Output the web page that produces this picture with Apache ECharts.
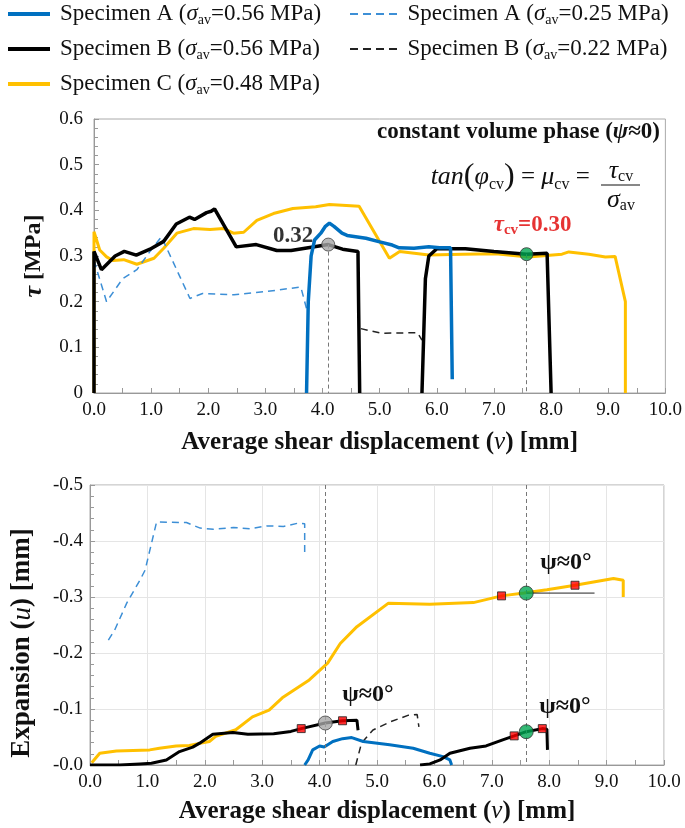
<!DOCTYPE html>
<html><head><meta charset="utf-8">
<script src="https://cdn.jsdelivr.net/npm/echarts@6/dist/echarts.min.js"></script>
<style>html,body{margin:0;padding:0;background:#fff}#c{width:685px;height:828px}</style>
</head><body><div id="c"></div>
<script>
// ---------- data: top chart (shear stress tau [MPa] vs displacement v [mm]) ----------
const topA056 = [[3.72,0],[3.75,0.2],[3.80,0.30],[3.86,0.335],[3.97,0.35],[4.05,0.365],[4.12,0.372],[4.2,0.365],[4.34,0.35],[4.43,0.345],[4.76,0.339],[5.0,0.331],[5.22,0.324],[5.34,0.318],[5.6,0.317],[5.86,0.32],[6.05,0.318],[6.24,0.318],[6.27,0.03]];
const topA025 = [[0,0.29],[0.22,0.20],[0.5,0.25],[0.75,0.27],[0.98,0.31],[1.18,0.342],[1.68,0.207],[1.9,0.218],[2.45,0.215],[3.0,0.222],[3.62,0.232],[3.73,0.18]];
const topB056a = [[0,0],[0,0.31],[0.13,0.27],[0.37,0.30],[0.53,0.31],[0.74,0.302],[0.98,0.315],[1.22,0.332],[1.44,0.37],[1.67,0.385],[1.76,0.38],[1.97,0.395],[2.05,0.398],[2.11,0.403],[2.49,0.32],[2.84,0.325],[3.2,0.312],[3.45,0.312],[3.75,0.318],[4.1,0.325],[4.35,0.315],[4.62,0.31],[4.65,0.0]];
const topB056b = [[5.74,0],[5.8,0.25],[5.86,0.30],[6.0,0.316],[6.5,0.316],[7.0,0.31],[7.57,0.304],[7.93,0.306],[8.0,0.0]];
const topB022 = [[4.67,0.141],[5.02,0.131],[5.66,0.132],[5.74,0.116]];
const topC048 = [[0,0],[0,0.353],[0.1,0.313],[0.22,0.298],[0.33,0.29],[0.52,0.292],[0.75,0.282],[1.05,0.295],[1.22,0.317],[1.45,0.35],[1.74,0.36],[2.03,0.358],[2.27,0.36],[2.44,0.35],[2.62,0.352],[2.85,0.378],[3.14,0.393],[3.48,0.404],[3.88,0.408],[4.12,0.413],[4.64,0.409],[5.17,0.295],[5.35,0.31],[5.86,0.302],[6.45,0.304],[7.03,0.305],[7.6,0.298],[8.19,0.304],[8.31,0.309],[8.66,0.304],[8.95,0.298],[9.12,0.299],[9.30,0.2],[9.30,0]];
const topGrey = [[4.1,0.325]];
const topGreen = [[7.57,0.304]];
const topLabels = ['0.32', '=0.30'];

// ---------- data: bottom chart (expansion u [mm] vs displacement v [mm]) ----------
const botA056 = [[3.74,0],[3.8,-0.009],[3.88,-0.027],[4.0,-0.034],[4.08,-0.032],[4.23,-0.042],[4.4,-0.047],[4.56,-0.049],[4.76,-0.042],[5.22,-0.036],[5.63,-0.030],[5.92,-0.021],[6.15,-0.015],[6.27,-0.009],[6.30,0]];
const botA025 = [[0.32,-0.223],[0.43,-0.241],[0.64,-0.289],[0.87,-0.33],[0.96,-0.348],[1.16,-0.434],[1.68,-0.433],[1.92,-0.423],[2.15,-0.421],[2.5,-0.424],[2.79,-0.422],[3.08,-0.427],[3.37,-0.426],[3.63,-0.432],[3.74,-0.431],[3.74,-0.378]];
const botB056a = [[0,0],[0.52,0],[0.87,-0.002],[1.07,-0.003],[1.33,-0.009],[1.56,-0.024],[1.79,-0.032],[1.91,-0.039],[2.14,-0.055],[2.49,-0.058],[2.75,-0.055],[3.2,-0.056],[3.5,-0.06],[3.68,-0.065],[4.1,-0.075],[4.4,-0.079],[4.65,-0.08],[4.67,-0.062]];
const botB056b = [[5.75,0],[5.92,-0.002],[6.1,-0.009],[6.27,-0.021],[6.62,-0.030],[6.9,-0.034],[7.19,-0.045],[7.39,-0.052],[7.6,-0.0595],[7.88,-0.065],[7.96,-0.064],[7.97,-0.027]];
const botB022 = [[4.63,0],[4.73,-0.039],[4.93,-0.0625],[5.23,-0.077],[5.55,-0.089],[5.7,-0.09],[5.73,-0.068]];
const botC048 = [[0.03,-0.004],[0.17,-0.021],[0.46,-0.025],[1.04,-0.027],[1.21,-0.030],[1.5,-0.034],[1.73,-0.035],[2.08,-0.042],[2.19,-0.051],[2.54,-0.063],[2.83,-0.086],[3.12,-0.098],[3.35,-0.12],[3.82,-0.152],[4.14,-0.182],[4.36,-0.217],[4.65,-0.247],[5.2,-0.289],[5.92,-0.287],[6.68,-0.29],[7.17,-0.302],[7.56,-0.307],[7.96,-0.313],[8.45,-0.321],[9.12,-0.333],[9.29,-0.33],[9.29,-0.30]];
const botRed = [[3.68,-0.065],[4.40,-0.079],[7.39,-0.052],[7.88,-0.065],[7.17,-0.302],[8.45,-0.321]];
const botGrey = [[4.1,-0.075]];
const botGreen = [[7.6,-0.307],[7.6,-0.0595]];
const botTangent = [[7.6,-0.307],[8.79,-0.307]];
const refX = [4.1, 7.6];

// ---------- tick labels / names ----------
const xTitle = 'Average shear displacement ({i|v}) [mm]';
const legendNames = {
  A056: 'Specimen A ({i|σ}{s|av}=0.56 MPa)',
  B056: 'Specimen B ({i|σ}{s|av}=0.56 MPa)',
  C048: 'Specimen C ({i|σ}{s|av}=0.48 MPa)',
  A025: 'Specimen A ({i|σ}{s|av}=0.25 MPa)',
  B022: 'Specimen B ({i|σ}{s|av}=0.22 MPa)'
};

const F = "'Liberation Serif','Times New Roman',serif";
const BLUE = '#0070C0', BLUE_D = '#3D8FD6', BLACK = '#000', BLACK_D = '#222', YEL = '#FFC000';
const DASH_ICON = 'path://M0,0h8v2h-8z M13,0h8v2h-8z M26,0h8v2h-8z M39,0h8v2h-8z';
const chart = echarts.init(document.getElementById('c'));

function line(name, data, ax, color, width, dashed, z) {
  return {
    type: 'line', name, data, xAxisIndex: ax, yAxisIndex: ax, symbol: 'none',
    lineStyle: { color, width, type: dashed ? [7, 5] : 'solid' }, itemStyle: { color },
    z: z || 2, animation: false, silent: true
  };
}
const legRich = {
  i: { fontStyle: 'italic', fontSize: 23, fontFamily: F, lineHeight: 26, verticalAlign: 'middle' },
  s: { fontSize: 14, fontFamily: F, lineHeight: 26, verticalAlign: 'bottom' }
};
const axisNameRich = { i: { fontStyle: 'italic', fontWeight: 'normal', fontSize: 25, fontFamily: F } };

function xAx(gi, split, gap) {
  return {
    type: 'value', gridIndex: gi, min: 0, max: 10, interval: 1,
    axisLine: { lineStyle: { color: '#999' } },
    axisTick: { inside: true, length: 5, lineStyle: { color: '#999' } },
    minorTick: { show: true, splitNumber: 2, length: 5, lineStyle: { color: '#999' } },
    splitLine: { show: split, lineStyle: { color: '#e5e5e5' } },
    axisLabel: { formatter: v => v.toFixed(1), fontFamily: F, fontSize: 19, color: '#111', margin: 8 },
    name: xTitle, nameLocation: 'middle', nameGap: gap,
    nameTextStyle: { fontFamily: F, fontSize: 25, fontWeight: 'bold', color: '#111', rich: axisNameRich }
  };
}

const option = {
  backgroundColor: '#fff',
  animation: false,
  grid: [
    { left: 94, right: 18, top: 119, height: 274, show: true, borderColor: '#aaa', borderWidth: 1 },
    { left: 90, right: 21, top: 485, height: 280, show: true, borderColor: '#aaa', borderWidth: 1 }
  ],
  legend: [
    { left: 3, top: -4, orient: 'vertical', itemWidth: 42, itemHeight: 4, itemGap: 9,
      data: ['A056', 'B056', 'C048'].map(n => ({ name: n, icon: 'rect' })), formatter: n => legendNames[n],
      textStyle: { fontFamily: F, fontSize: 23, color: '#111', lineHeight: 26, padding: [0, 0, 0, 5], rich: legRich } },
    { left: 345, top: -4, orient: 'vertical', itemWidth: 50, itemHeight: 2, itemGap: 9,
      data: ['A025', 'B022'].map(n => ({ name: n, icon: DASH_ICON })), formatter: n => legendNames[n],
      textStyle: { fontFamily: F, fontSize: 23, color: '#111', lineHeight: 26, padding: [0, 0, 0, 4], rich: legRich } }
  ],
  xAxis: [xAx(0, false, 37), xAx(1, true, 34)],
  yAxis: [
    { type: 'value', gridIndex: 0, min: 0, max: 0.6, interval: 0.1,
      axisLine: { show: true, lineStyle: { color: '#999' } },
      axisTick: { show: true, inside: true, length: 5, lineStyle: { color: '#999' } },
      minorTick: { show: true, splitNumber: 5, length: 4, lineStyle: { color: '#999' } },
      splitLine: { show: false },
      axisLabel: { formatter: v => v === 0 ? '0' : v.toFixed(1), fontFamily: F, fontSize: 19, color: '#111', margin: 11 },
      name: '{i|τ} [MPa]', nameLocation: 'middle', nameGap: 47, nameRotate: 90,
      nameTextStyle: { fontFamily: F, fontSize: 24, fontWeight: 'bold', color: '#111',
        rich: { i: { fontStyle: 'italic', fontWeight: 'bold', fontSize: 26, fontFamily: F } } } },
    { type: 'value', gridIndex: 1, min: -0.5, max: 0, interval: 0.1, inverse: true,
      axisLine: { show: true, lineStyle: { color: '#999' } },
      axisTick: { show: true, inside: true, length: 5, lineStyle: { color: '#999' } },
      minorTick: { show: true, splitNumber: 5, length: 4, lineStyle: { color: '#999' } },
      splitLine: { show: true, lineStyle: { color: '#e5e5e5' } },
      axisLabel: { formatter: v => Math.abs(v) < 1e-9 ? '-0.0' : v.toFixed(1), fontFamily: F, fontSize: 19, color: '#111', margin: 7 },
      name: 'Expansion ({i|u}) [mm]', nameLocation: 'middle', nameGap: 54, nameRotate: 90,
      nameTextStyle: { fontFamily: F, fontSize: 27, fontWeight: 'bold', color: '#111', padding: [0, 36, 0, 0],
        rich: { i: { fontStyle: 'italic', fontWeight: 'normal', fontSize: 27, fontFamily: F } } } }
  ],
  series: [
    // top chart
    line('C048', topC048, 0, YEL, 3),
    line('A025', topA025, 0, BLUE_D, 1.5, true),
    line('B022', topB022, 0, BLACK_D, 1.5, true),
    line('B056', topB056a, 0, BLACK, 3.5, false, 3),
    line('B056', topB056b, 0, BLACK, 3.5, false, 3),
    line('A056', topA056, 0, BLUE, 3.5, false, 4),
    { type: 'scatter', xAxisIndex: 0, yAxisIndex: 0, data: topGrey, symbol: 'circle', symbolSize: 13, z: 6,
      itemStyle: { color: '#a6a6a6', borderColor: '#444', borderWidth: 1 },
      label: { show: true, position: 'left', distance: 8, offset: [0, -9], formatter: topLabels[0],
        fontFamily: F, fontSize: 23, fontWeight: 'bold', color: '#000' },
      markLine: { silent: true, symbol: 'none', label: { show: false },
        lineStyle: { color: '#777', type: [4, 3], width: 1 },
        data: [[{ coord: topGrey[0] }, { coord: [topGrey[0][0], 0] }], [{ coord: topGreen[0] }, { coord: [topGreen[0][0], 0] }]] } },
    { type: 'scatter', xAxisIndex: 0, yAxisIndex: 0, data: topGreen, symbol: 'circle', symbolSize: 13, z: 6,
      itemStyle: { color: '#00A651', borderColor: '#333', borderWidth: 1 },
      label: { show: true, position: 'top', distance: 10, offset: [6, 0], formatter: '{i|τ}{s|cv}{b|' + topLabels[1] + '}',
        rich: { i: { fontFamily: F, fontSize: 23, fontStyle: 'italic', fontWeight: 'bold', color: '#e00000', lineHeight: 24 },
          s: { fontFamily: F, fontSize: 15, fontWeight: 'bold', color: '#e00000', lineHeight: 24, verticalAlign: 'bottom' },
          b: { fontFamily: F, fontSize: 23, fontWeight: 'bold', color: '#e00000', lineHeight: 24 } } } },
    // bottom chart
    line('C048', botC048, 1, YEL, 3),
    line('A025', botA025, 1, BLUE_D, 1.5, true),
    line('B022', botB022, 1, BLACK_D, 1.5, true),
    line('A056', botA056, 1, BLUE, 3),
    line('B056', botB056a, 1, BLACK, 3, false, 3),
    line('B056', botB056b, 1, BLACK, 3, false, 3),
    { type: 'line', xAxisIndex: 1, yAxisIndex: 1, data: botTangent, symbol: 'none', z: 2, silent: true,
      lineStyle: { color: '#222', width: 1 },
      markLine: { silent: true, symbol: 'none', label: { show: false },
        lineStyle: { color: '#777', type: [4, 3], width: 1 },
        data: refX.map(x => ({ xAxis: x })) } },
    { type: 'scatter', xAxisIndex: 1, yAxisIndex: 1, data: botRed, symbol: 'rect', symbolSize: 8, z: 6,
      itemStyle: { color: '#ff0000', borderColor: '#222', borderWidth: 1 } },
    { type: 'scatter', xAxisIndex: 1, yAxisIndex: 1, data: botGrey, symbol: 'circle', symbolSize: 14, z: 6,
      itemStyle: { color: '#a6a6a6', borderColor: '#444', borderWidth: 1 } },
    { type: 'scatter', xAxisIndex: 1, yAxisIndex: 1, data: botGreen, symbol: 'circle', symbolSize: 14, z: 6,
      itemStyle: { color: '#00A651', borderColor: '#333', borderWidth: 1 } }
  ],
  graphic: [
    { type: 'text', right: 25, top: 121, z: 10,
      style: { text: 'constant volume phase ({i|ψ}≈0)', font: 'bold 23px ' + F, fill: '#111',
        rich: { i: { fontStyle: 'italic', fontWeight: 'bold', fontSize: 23, fontFamily: F } } } },
    { type: 'text', x: 596, y: 177, z: 10,
      style: { text: '{i|tan}{p|(}{i|φ}{s|cv}{p|)} = {i|μ}{s|cv} = ', align: 'right', verticalAlign: 'middle',
        font: '25px ' + F, fill: '#111',
        rich: { i: { fontStyle: 'italic', fontSize: 26, fontFamily: F, lineHeight: 32 },
          p: { fontSize: 32, fontFamily: F, lineHeight: 32 },
          s: { fontSize: 16, fontFamily: F, lineHeight: 32, verticalAlign: 'bottom' } } } },
    { type: 'text', x: 621, y: 171, z: 10,
      style: { text: '{i|τ}{s|cv}', align: 'center', verticalAlign: 'middle', fill: '#111',
        rich: { i: { fontStyle: 'italic', fontSize: 26, fontFamily: F, lineHeight: 28 },
          s: { fontSize: 16, fontFamily: F, lineHeight: 28, verticalAlign: 'bottom' } } } },
    { type: 'line', z: 10, shape: { x1: 601, y1: 185, x2: 640, y2: 185 }, style: { stroke: '#111', lineWidth: 1 } },
    { type: 'text', x: 621, y: 200, z: 10,
      style: { text: '{i|σ}{s|av}', align: 'center', verticalAlign: 'middle', fill: '#111',
        rich: { i: { fontStyle: 'italic', fontSize: 26, fontFamily: F, lineHeight: 28 },
          s: { fontSize: 16, fontFamily: F, lineHeight: 28, verticalAlign: 'bottom' } } } },
    { type: 'text', x: 566, y: 563, z: 10, style: { text: 'ψ≈0°', align: 'center', verticalAlign: 'middle', font: 'bold 24px ' + F, fill: '#111' } },
    { type: 'text', x: 368, y: 695, z: 10, style: { text: 'ψ≈0°', align: 'center', verticalAlign: 'middle', font: 'bold 24px ' + F, fill: '#111' } },
    { type: 'text', x: 565, y: 707, z: 10, style: { text: 'ψ≈0°', align: 'center', verticalAlign: 'middle', font: 'bold 24px ' + F, fill: '#111' } }
  ]
};
chart.setOption(option);
</script></body></html>
